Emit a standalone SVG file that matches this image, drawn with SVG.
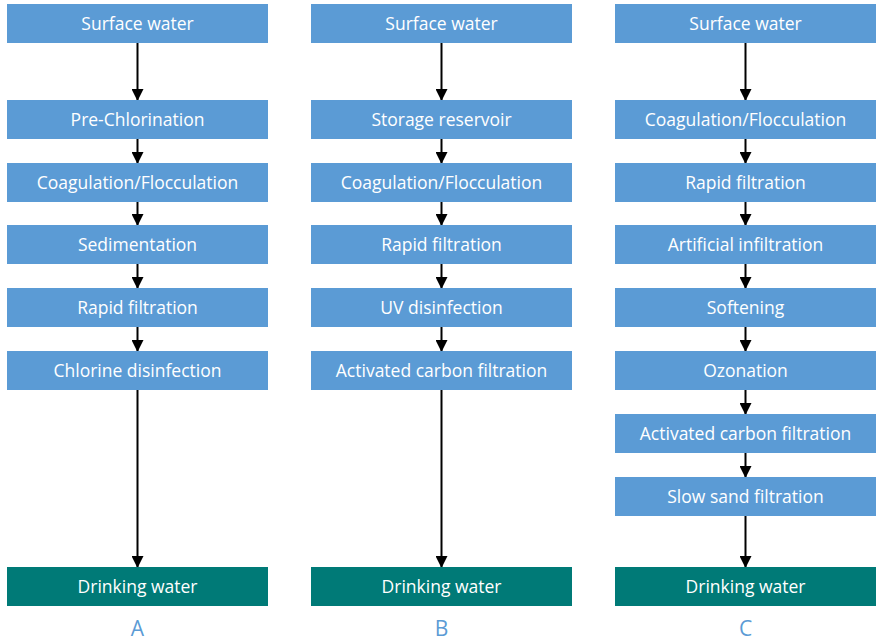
<svg xmlns="http://www.w3.org/2000/svg" width="876" height="643" viewBox="0 0 876 643">
<defs>
<marker id="ah" markerWidth="12" markerHeight="12" refX="11" refY="6" orient="auto" markerUnits="userSpaceOnUse" viewBox="0 0 12 12">
<path d="M0,0 L12,6 L0,12 Z" fill="#000"/>
</marker>
<style>
.b{fill:#5B9BD5;}
.d{fill:#007A77;}
.t{font-family:"Open Sans","Noto Sans",sans-serif;font-size:17.5px;fill:#fff;text-anchor:middle;}
.l{font-family:"Open Sans","Noto Sans",sans-serif;font-size:21px;fill:#5B9BD5;text-anchor:middle;}
.c line{stroke:#000;stroke-width:2;marker-end:url(#ah);}
</style>
</defs>
<rect width="876" height="643" fill="#fff"/>
<g class="c" id="connectors">
<line x1="137.5" y1="43" x2="137.5" y2="100"/>
<line x1="137.5" y1="139" x2="137.5" y2="163"/>
<line x1="137.5" y1="202" x2="137.5" y2="225"/>
<line x1="137.5" y1="264" x2="137.5" y2="288"/>
<line x1="137.5" y1="327" x2="137.5" y2="351"/>
<line x1="137.5" y1="390" x2="137.5" y2="567"/>
<line x1="441.5" y1="43" x2="441.5" y2="100"/>
<line x1="441.5" y1="139" x2="441.5" y2="163"/>
<line x1="441.5" y1="202" x2="441.5" y2="225"/>
<line x1="441.5" y1="264" x2="441.5" y2="288"/>
<line x1="441.5" y1="327" x2="441.5" y2="351"/>
<line x1="441.5" y1="390" x2="441.5" y2="567"/>
<line x1="745.5" y1="43" x2="745.5" y2="100"/>
<line x1="745.5" y1="139" x2="745.5" y2="163"/>
<line x1="745.5" y1="202" x2="745.5" y2="225"/>
<line x1="745.5" y1="264" x2="745.5" y2="288"/>
<line x1="745.5" y1="327" x2="745.5" y2="351"/>
<line x1="745.5" y1="390" x2="745.5" y2="414"/>
<line x1="745.5" y1="453" x2="745.5" y2="477"/>
<line x1="745.5" y1="516" x2="745.5" y2="567"/>
</g>
<g id="A1"><rect class="b" x="7" y="4" width="261" height="39"/><text class="t" x="137.5" y="29.5">Surface water</text></g>
<g id="A2"><rect class="b" x="7" y="100" width="261" height="39"/><text class="t" x="137.5" y="125.5">Pre-Chlorination</text></g>
<g id="A3"><rect class="b" x="7" y="163" width="261" height="39"/><text class="t" x="137.5" y="188.5">Coagulation/Flocculation</text></g>
<g id="A4"><rect class="b" x="7" y="225" width="261" height="39"/><text class="t" x="137.5" y="250.5">Sedimentation</text></g>
<g id="A5"><rect class="b" x="7" y="288" width="261" height="39"/><text class="t" x="137.5" y="313.5">Rapid filtration</text></g>
<g id="A6"><rect class="b" x="7" y="351" width="261" height="39"/><text class="t" x="137.5" y="376.5">Chlorine disinfection</text></g>
<g id="A7"><rect class="d" x="7" y="567" width="261" height="39"/><text class="t" x="137.5" y="592.5">Drinking water</text></g>
<g id="B1"><rect class="b" x="311" y="4" width="261" height="39"/><text class="t" x="441.5" y="29.5">Surface water</text></g>
<g id="B2"><rect class="b" x="311" y="100" width="261" height="39"/><text class="t" x="441.5" y="125.5">Storage reservoir</text></g>
<g id="B3"><rect class="b" x="311" y="163" width="261" height="39"/><text class="t" x="441.5" y="188.5">Coagulation/Flocculation</text></g>
<g id="B4"><rect class="b" x="311" y="225" width="261" height="39"/><text class="t" x="441.5" y="250.5">Rapid filtration</text></g>
<g id="B5"><rect class="b" x="311" y="288" width="261" height="39"/><text class="t" x="441.5" y="313.5">UV disinfection</text></g>
<g id="B6"><rect class="b" x="311" y="351" width="261" height="39"/><text class="t" x="441.5" y="376.5">Activated carbon filtration</text></g>
<g id="B7"><rect class="d" x="311" y="567" width="261" height="39"/><text class="t" x="441.5" y="592.5">Drinking water</text></g>
<g id="C1"><rect class="b" x="615" y="4" width="261" height="39"/><text class="t" x="745.5" y="29.5">Surface water</text></g>
<g id="C2"><rect class="b" x="615" y="100" width="261" height="39"/><text class="t" x="745.5" y="125.5">Coagulation/Flocculation</text></g>
<g id="C3"><rect class="b" x="615" y="163" width="261" height="39"/><text class="t" x="745.5" y="188.5">Rapid filtration</text></g>
<g id="C4"><rect class="b" x="615" y="225" width="261" height="39"/><text class="t" x="745.5" y="250.5">Artificial infiltration</text></g>
<g id="C5"><rect class="b" x="615" y="288" width="261" height="39"/><text class="t" x="745.5" y="313.5">Softening</text></g>
<g id="C6"><rect class="b" x="615" y="351" width="261" height="39"/><text class="t" x="745.5" y="376.5">Ozonation</text></g>
<g id="C7"><rect class="b" x="615" y="414" width="261" height="39"/><text class="t" x="745.5" y="439.5">Activated carbon filtration</text></g>
<g id="C8"><rect class="b" x="615" y="477" width="261" height="39"/><text class="t" x="745.5" y="502.5">Slow sand filtration</text></g>
<g id="C9"><rect class="d" x="615" y="567" width="261" height="39"/><text class="t" x="745.5" y="592.5">Drinking water</text></g>
<g id="labels">
<text class="l" x="137.5" y="636">A</text>
<text class="l" x="441.5" y="636">B</text>
<text class="l" x="745.5" y="636">C</text>
</g>
</svg>
